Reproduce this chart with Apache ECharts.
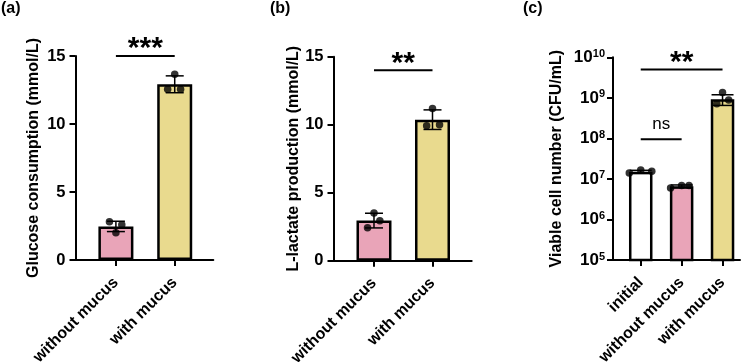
<!DOCTYPE html>
<html>
<head>
<meta charset="utf-8">
<script src="https://cdn.jsdelivr.net/npm/echarts@6/dist/echarts.min.js"></script>
<style>
  html, body { margin: 0; padding: 0; background: #fff; }
  #chart { width: 750px; height: 362px; }
</style>
</head>
<body>
<div id="chart"></div>
<script>
// ---- data ----
var groupsAB = ['without mucus', 'with mucus'];
var groupsC = ['initial', 'without mucus', 'with mucus'];

// (a) glucose consumption, mmol/L
var glucoseMean = [2.47, 12.92];
var glucoseSd = [0.38, 0.62];
var glucoseDots = [[2.82, 2.6, 2.0], [13.65, 12.55, 12.55]];

// (b) L-lactate production, mmol/L
var lactateMean = [2.95, 10.37];
var lactateSd = [0.54, 0.72];
var lactateDots = [[3.5, 2.93, 2.43], [11.2, 9.93, 10.0]];

// (c) viable cells, CFU/mL
var cellMean = [1.5e7, 6.6e6, 9.2e8];
var cellSd = [1.3e6, 5e5, 2.7e8];
var cellDots = [[1.4e7, 1.66e7, 1.55e7], [6.0e6, 6.9e6, 6.9e6], [7.1e8, 1.35e9, 8.9e8]];

// significance brackets: [from group, to group, y level]
var sigA = [[1, 2, 15]];
var sigALabels = ['***'];
var sigB = [[1, 2, 14]];
var sigBLabels = ['**'];
var sigC = [[1, 2, 9.5e7], [1, 3, 5e9]];
var sigCLabels = ['ns', '**'];

// ---- style ----
var FONT = '"Liberation Sans", Arial, sans-serif';
var pink = '#E9A4B8';
var yellow = '#E9DA8E';
var jitterAB = [[-0.11, 0.1, 0], [0, -0.12, 0.1]];
var jitterB = [[0, 0.1, -0.11], [0, -0.1, 0.12]];
var jitterC = [[-0.28, 0, 0.27], [-0.27, 0, 0.18], [-0.14, 0, 0.15]];

function barData(means, colors) {
  return means.map(function (m, i) {
    return { value: [i + 1, m], itemStyle: { color: colors[i] } };
  });
}
function errData(means, sds) {
  return means.map(function (m, i) { return [i + 1, m - sds[i], m + sds[i]]; });
}
function dotData(dots, jit) {
  var out = [];
  dots.forEach(function (g, i) {
    g.forEach(function (v, j) { out.push([i + 1 + jit[i][j], v]); });
  });
  return out;
}

function errRender(capW) {
  return function (params, api) {
    var x = api.value(0);
    var lo = api.coord([x, api.value(1)]);
    var hi = api.coord([x, api.value(2)]);
    var st = { stroke: '#000', lineWidth: 1.5 };
    return {
      type: 'group',
      children: [
        { type: 'line', shape: { x1: lo[0], y1: lo[1], x2: hi[0], y2: hi[1] }, style: st },
        { type: 'line', shape: { x1: hi[0] - capW / 2, y1: hi[1], x2: hi[0] + capW / 2, y2: hi[1] }, style: st },
        { type: 'line', shape: { x1: lo[0] - capW / 2, y1: lo[1], x2: lo[0] + capW / 2, y2: lo[1] }, style: st }
      ]
    };
  };
}

function sigRender(labels) {
  return function (params, api) {
    var a = api.coord([api.value(0), api.value(2)]);
    var b = api.coord([api.value(1), api.value(2)]);
    var txt = labels[params.dataIndex];
    var isNs = txt === 'ns';
    return {
      type: 'group',
      children: [
        { type: 'line', shape: { x1: a[0], y1: a[1], x2: b[0], y2: b[1] }, style: { stroke: '#000', lineWidth: 2 } },
        {
          type: 'text',
          x: (a[0] + b[0]) / 2,
          y: isNs ? a[1] - 15 : a[1] - 7,
          style: {
            text: txt,
            fontFamily: FONT,
            fontSize: isNs ? 17 : 30,
            fontWeight: isNs ? 'normal' : 'bold',
            fill: '#000',
            align: 'center',
            verticalAlign: 'middle'
          }
        }
      ]
    };
  };
}

var axisLineStyle = { color: '#000', width: 2 };
var titleStyle = { fontFamily: FONT, fontSize: 16, fontWeight: 'bold', color: '#000' };

function xAxisFor(idx, names, min, max) {
  var vals = names.map(function (n, i) { return i + 1; });
  return {
    gridIndex: idx, type: 'value', min: min, max: max,
    splitLine: { show: false },
    axisLine: { show: true, lineStyle: axisLineStyle },
    axisTick: { show: true, length: 6, lineStyle: axisLineStyle, customValues: vals },
    axisLabel: {
      customValues: vals,
      rotate: 45, margin: 20,
      fontFamily: FONT, fontSize: 16, fontWeight: 'bold', color: '#000',
      formatter: function (v) { return names[Math.round(v) - 1] || ''; }
    }
  };
}

function yAxisLinear(idx, name, gap) {
  return {
    gridIndex: idx, type: 'value', min: 0, max: 15, interval: 5,
    name: name, nameLocation: 'middle', nameGap: gap, nameRotate: 90,
    nameTextStyle: { fontFamily: FONT, fontSize: 16, fontWeight: 'bold', color: '#000' },
    splitLine: { show: false },
    axisLine: { show: true, lineStyle: axisLineStyle },
    axisTick: { show: true, length: 6, lineStyle: axisLineStyle },
    axisLabel: { margin: 10, fontFamily: FONT, fontSize: 16.5, fontWeight: 'bold', color: '#000' }
  };
}

var chart = echarts.init(document.getElementById('chart'));

var option = {
  animation: false,
  backgroundColor: '#fff',
  title: [
    { text: '(a)', left: 1, top: 1, padding: 0, textStyle: titleStyle },
    { text: '(b)', left: 270, top: 1, padding: 0, textStyle: titleStyle },
    { text: '(c)', left: 523, top: 1, padding: 0, textStyle: titleStyle }
  ],
  grid: [
    { left: 75.5, top: 56, width: 137.8, height: 204, outerBoundsMode: 'none' },
    { left: 333.5, top: 56.7, width: 138.2, height: 204, outerBoundsMode: 'none' },
    { left: 613, top: 57.3, width: 127, height: 202.7, outerBoundsMode: 'none' }
  ],
  xAxis: [
    xAxisFor(0, groupsAB, 0.313, 2.656),
    xAxisFor(1, groupsAB, 0.308, 2.67),
    xAxisFor(2, groupsC, 0.322, 3.427)
  ],
  yAxis: [
    yAxisLinear(0, 'Glucose consumption (mmol/L)', 34),
    yAxisLinear(1, 'L-lactate production (mmol/L)', 32),
    {
      gridIndex: 2, type: 'log', logBase: 10, min: 1e5, max: 1e10,
      name: 'Viable cell number (CFU/mL)', nameLocation: 'middle', nameGap: 48, nameRotate: 90,
      nameTextStyle: { fontFamily: FONT, fontSize: 16, fontWeight: 'bold', color: '#000' },
      splitLine: { show: false },
      minorTick: { show: false },
      axisLine: { show: true, lineStyle: axisLineStyle },
      axisTick: { show: true, length: 6, lineStyle: axisLineStyle },
      axisLabel: {
        margin: 8, color: '#000',
        formatter: function (v) {
          var e = Math.round(Math.log(v) / Math.LN10);
          return '{b|10}{s|' + e + '}';
        },
        rich: {
          b: { fontFamily: FONT, fontSize: 17, fontWeight: 'bold', color: '#000' },
          s: { fontFamily: FONT, fontSize: 11, fontWeight: 'bold', color: '#000', verticalAlign: 'top', padding: [0, 0, 7, 0] }
        }
      }
    }
  ],
  series: [
    // (a)
    { type: 'bar', xAxisIndex: 0, yAxisIndex: 0, barWidth: 35, z: 2,
      itemStyle: { borderColor: '#000', borderWidth: 2.5 },
      data: barData(glucoseMean, [pink, yellow]) },
    { type: 'custom', xAxisIndex: 0, yAxisIndex: 0, z: 3, renderItem: errRender(18),
      data: errData(glucoseMean, glucoseSd) },
    { type: 'scatter', xAxisIndex: 0, yAxisIndex: 0, z: 4, symbolSize: 7.5,
      itemStyle: { color: '#000' }, data: dotData(glucoseDots, jitterAB) },
    { type: 'custom', xAxisIndex: 0, yAxisIndex: 0, z: 5, clip: false,
      renderItem: sigRender(sigALabels), data: sigA },
    // (b)
    { type: 'bar', xAxisIndex: 1, yAxisIndex: 1, barWidth: 35, z: 2,
      itemStyle: { borderColor: '#000', borderWidth: 2.5 },
      data: barData(lactateMean, [pink, yellow]) },
    { type: 'custom', xAxisIndex: 1, yAxisIndex: 1, z: 3, renderItem: errRender(18),
      data: errData(lactateMean, lactateSd) },
    { type: 'scatter', xAxisIndex: 1, yAxisIndex: 1, z: 4, symbolSize: 7.5,
      itemStyle: { color: '#000' }, data: dotData(lactateDots, jitterB) },
    { type: 'custom', xAxisIndex: 1, yAxisIndex: 1, z: 5, clip: false,
      renderItem: sigRender(sigBLabels), data: sigB },
    // (c)
    { type: 'bar', xAxisIndex: 2, yAxisIndex: 2, barWidth: 23.5, z: 2, clip: true,
      itemStyle: { borderColor: '#000', borderWidth: 2.5 },
      data: barData(cellMean, ['#ffffff', pink, yellow]) },
    { type: 'custom', xAxisIndex: 2, yAxisIndex: 2, z: 3, renderItem: errRender(22),
      data: errData(cellMean, cellSd) },
    { type: 'scatter', xAxisIndex: 2, yAxisIndex: 2, z: 4, symbolSize: 7.5,
      itemStyle: { color: '#000' }, data: dotData(cellDots, jitterC) },
    { type: 'custom', xAxisIndex: 2, yAxisIndex: 2, z: 5, clip: false,
      renderItem: sigRender(sigCLabels), data: sigC }
  ]
};

chart.setOption(option);
</script>
</body>
</html>
